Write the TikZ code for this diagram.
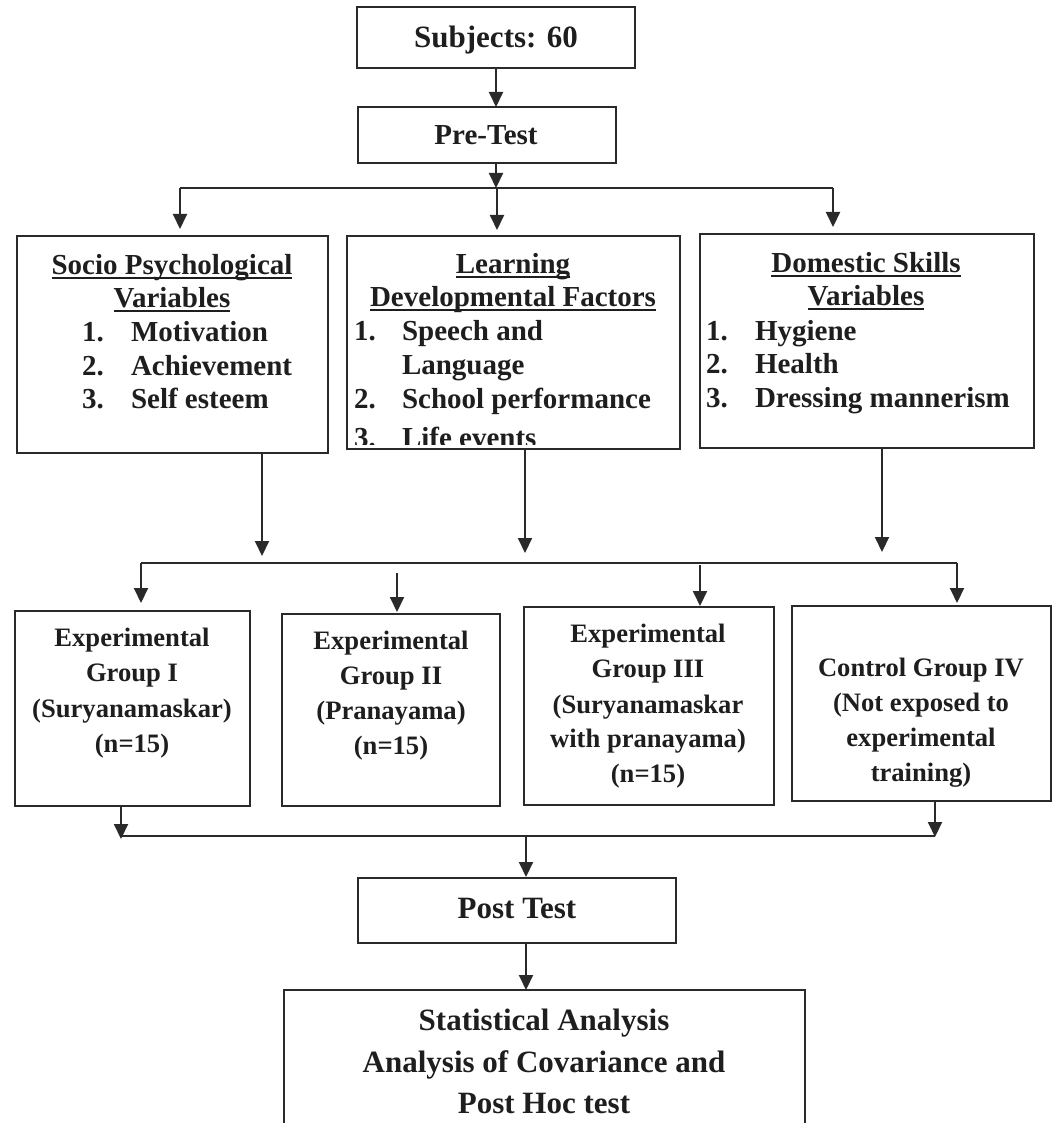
\documentclass[tikz,border=0pt]{standalone}
\usepackage{fontspec}
\setmainfont{Liberation Serif}
\usetikzlibrary{arrows.meta}
\definecolor{ink}{HTML}{1E1E1E}
\definecolor{edge}{HTML}{2A2A2A}
\newsavebox\ulbox
\newcommand\uln[1]{\sbox\ulbox{#1}\rlap{\rule[-2.6pt]{\wd\ulbox}{1.1pt}}\usebox\ulbox}
\newcommand\pbox[5]{\node[boxst, minimum width={(#4-#2)*0.5pt}, minimum height={(#5-#3)*0.5pt}] (#1) at ({(#2+#4)/2},{(#3+#5)/2}) {};}
\begin{document}
\begin{tikzpicture}[x=0.5pt,y=-0.5pt,
  boxst/.style={draw=edge, line width=1pt, inner sep=0pt, outer sep=0pt},
  txt/.style={inner sep=0pt, outer sep=0pt, text=ink},
  big/.style={txt, font=\fontsize{15.5}{18}\selectfont\bfseries},
  mid/.style={txt, font=\fontsize{14.5}{17}\selectfont\bfseries},
  sml/.style={txt, font=\fontsize{13.3}{16}\selectfont\bfseries},
  arr/.style={draw=edge, line width=1pt, -{Triangle[width=7pt,length=7.5pt]}},
  ln/.style={draw=edge, line width=1pt}]
\useasboundingbox (0,0) rectangle (1053,1123);
\clip (0,0) rectangle (1053,1123);

% ---------- boxes ----------
\pbox{subj}{357}{7}{635}{68}
\pbox{pre}{358}{107}{616}{163}
\pbox{soc}{17}{236}{328}{453}
\pbox{lrn}{347}{236}{680}{449}
\pbox{dom}{700}{234}{1034}{448}
\pbox{eg1}{15}{611}{250}{806}
\pbox{eg2}{282}{614}{500}{806}
\pbox{eg3}{524}{607}{774}{805}
\pbox{cg4}{792}{606}{1051}{801}
\pbox{post}{358}{878}{676}{943}
\pbox{stat}{284}{990}{805}{1140}

% ---------- texts ----------
\node[big, anchor=base] (subjT) at (496,48) {Subjects: 60};
\node[mid, anchor=base] (preT) at (486,145) {Pre-Test};

\node[mid, anchor=base] (socH1) at (172,274) {\uln{Socio Psychological}};
\node[mid, anchor=base] (socH2) at (172,307) {\uln{Variables}};
\node[mid, anchor=base west] (socN1) at (82,341) {1.};
\node[mid, anchor=base west] (socN2) at (82,375) {2.};
\node[mid, anchor=base west] (socN3) at (82,408) {3.};
\node[mid, anchor=base west] (socI1) at (131,341) {Motivation};
\node[mid, anchor=base west] (socI2) at (131,375) {Achievement};
\node[mid, anchor=base west] (socI3) at (131,408) {Self esteem};

\node[mid, anchor=base] (lrnH1) at (513,273) {\uln{Learning}};
\node[mid, anchor=base] (lrnH2) at (513,306) {\uln{Developmental Factors}};
\node[mid, anchor=base west] (lrnN1) at (354,340) {1.};
\node[mid, anchor=base west] (lrnN2) at (354,408) {2.};
\node[mid, anchor=base west] (lrnI1) at (402,340) {Speech and};
\node[mid, anchor=base west] (lrnI1b) at (402,374) {Language};
\node[mid, anchor=base west] (lrnI2) at (402,408) {School performance};
\begin{scope}
  \clip (lrn.north west) rectangle (lrn.east |- 0,444);
  \node[mid, anchor=base west] (lrnN3) at (354,447) {3.};
  \node[mid, anchor=base west] (lrnI3) at (402,447) {Life events};
\end{scope}

\node[mid, anchor=base] (domH1) at (866,272) {\uln{Domestic Skills}};
\node[mid, anchor=base] (domH2) at (866,305) {\uln{Variables}};
\node[mid, anchor=base west] (domN1) at (706,340) {1.};
\node[mid, anchor=base west] (domN2) at (706,373) {2.};
\node[mid, anchor=base west] (domN3) at (706,407) {3.};
\node[mid, anchor=base west] (domI1) at (755,340) {Hygiene};
\node[mid, anchor=base west] (domI2) at (755,373) {Health};
\node[mid, anchor=base west] (domI3) at (755,407) {Dressing mannerism};

\node[sml, anchor=base] (eg1a) at (132,646) {Experimental};
\node[sml, anchor=base] (eg1b) at (132,681) {Group I};
\node[sml, anchor=base] (eg1c) at (132,717) {(Suryanamaskar)};
\node[sml, anchor=base] (eg1d) at (132,752) {(n=15)};

\node[sml, anchor=base] (eg2a) at (391,649) {Experimental};
\node[sml, anchor=base] (eg2b) at (391,684) {Group II};
\node[sml, anchor=base] (eg2c) at (391,719) {(Pranayama)};
\node[sml, anchor=base] (eg2d) at (391,754) {(n=15)};

\node[sml, anchor=base] (eg3a) at (648,642) {Experimental};
\node[sml, anchor=base] (eg3b) at (648,677) {Group III};
\node[sml, anchor=base] (eg3c) at (648,713) {(Suryanamaskar};
\node[sml, anchor=base] (eg3d) at (648,747) {with pranayama)};
\node[sml, anchor=base] (eg3e) at (648,782) {(n=15)};

\node[sml, anchor=base] (cg4a) at (921,676) {Control Group IV};
\node[sml, anchor=base] (cg4b) at (921,711) {(Not exposed to};
\node[sml, anchor=base] (cg4c) at (921,746) {experimental};
\node[sml, anchor=base] (cg4d) at (921,781) {training)};

\node[big, anchor=base] (postT) at (517,918) {Post Test};
\node[big, anchor=base] (statT1) at (544,1030) {Statistical Analysis};
\node[big, anchor=base] (statT2) at (544,1072) {Analysis of Covariance and};
\node[big, anchor=base] (statT3) at (544,1113) {Post Hoc test};

% ---------- connectors ----------
\coordinate (a0) at (496,107);
\draw[arr] (a0 |- subj.south) -- (a0);

\coordinate (b1) at (496,188);
\coordinate (b1l) at (180,188);
\coordinate (b1r) at (833,188);
\coordinate (t1a) at (180,229);
\coordinate (t1b) at (497,230);
\coordinate (t1c) at (833,227);
\draw[arr] (b1 |- pre.south) -- (b1);
\draw[ln] (b1l) -- (b1r);
\draw[arr] (b1l) -- (t1a);
\draw[arr] (t1b |- b1) -- (t1b);
\draw[arr] (b1r) -- (t1c);

\coordinate (m1) at (262,556);
\coordinate (m2) at (525,553);
\coordinate (m3) at (882,552);
\draw[arr] (m1 |- soc.south) -- (m1);
\draw[arr] (m2 |- lrn.south) -- (m2);
\draw[arr] (m3 |- dom.south) -- (m3);

\coordinate (b2l) at (141,563);
\coordinate (b2r) at (957,563);
\coordinate (s2) at (397,573);
\coordinate (s3) at (700,565);
\coordinate (t2a) at (141,603);
\coordinate (t2b) at (397,612);
\coordinate (t2c) at (700,606);
\coordinate (t2d) at (957,603);
\draw[ln] (b2l) -- (b2r);
\draw[arr] (b2l) -- (t2a);
\draw[arr] (s2) -- (t2b);
\draw[arr] (s3) -- (t2c);
\draw[arr] (b2r) -- (t2d);

\coordinate (b3l) at (121,836);
\coordinate (b3r) at (935,836);
\coordinate (b3m) at (526,836);
\coordinate (t3a) at (121,839);
\coordinate (t3b) at (935,837);
\coordinate (t3m) at (526,877);
\draw[arr] (t3a |- eg1.south) -- (t3a);
\draw[arr] (t3b |- cg4.south) -- (t3b);
\draw[ln] (b3l) -- (b3r);
\draw[arr] (b3m) -- (t3m);

\coordinate (p1) at (526,990);
\draw[arr] (p1 |- post.south) -- (p1);
\end{tikzpicture}
\end{document}
